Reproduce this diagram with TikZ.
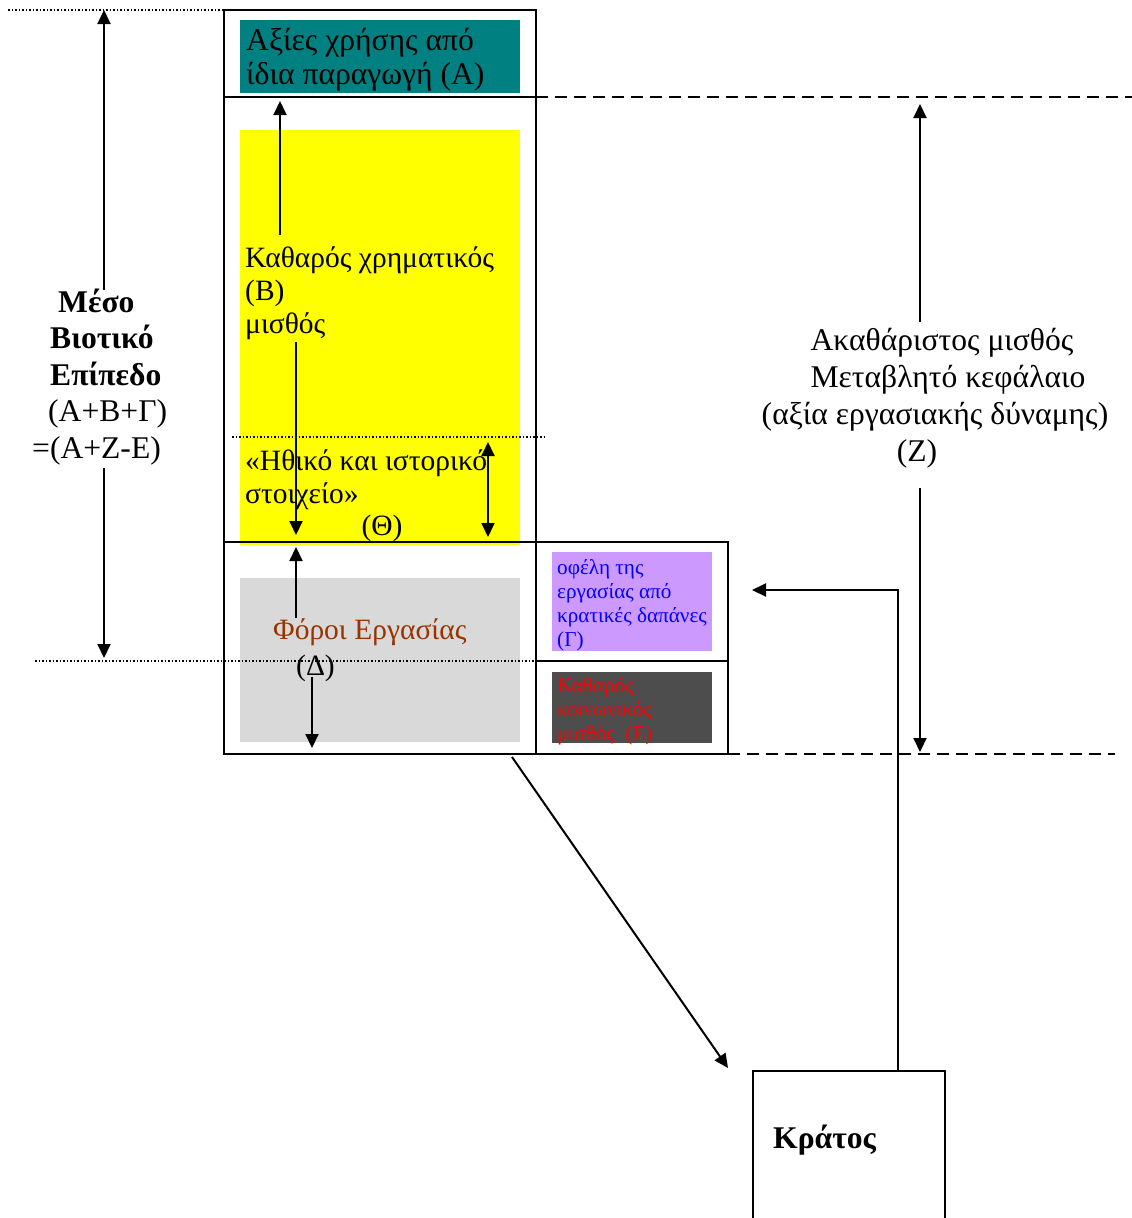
\documentclass[tikz,border=0pt]{standalone}
\usepackage{fontspec}
\setmainfont{Liberation Serif}
\usetikzlibrary{arrows.meta,calc}
\definecolor{tealA}{HTML}{008080}
\definecolor{yelB}{HTML}{FFFF00}
\definecolor{grayD}{HTML}{D9D9D9}
\definecolor{purpG}{HTML}{CC99FF}
\definecolor{darkE}{HTML}{4D4D4D}
\definecolor{brownT}{HTML}{993300}
\definecolor{blueT}{HTML}{0000FF}
\definecolor{redT}{HTML}{FF0000}
\begin{document}
\begin{tikzpicture}[x=1pt,y=-1pt,
  boxline/.style={draw=black,line width=2pt},
  dotline/.style={line width=1.2pt,dash pattern=on 1.5pt off 2pt},
  dashline/.style={line width=1.5pt,dash pattern=on 12pt off 7pt},
  arr/.style={line width=2pt,-{Triangle[length=14pt,width=13pt]}},
  darr/.style={line width=2pt,{Triangle[length=14pt,width=13pt]}-{Triangle[length=14pt,width=13pt]}},
  big/.style={font=\fontsize{31.6}{36}\selectfont,inner sep=0pt,anchor=base west},
  bigc/.style={font=\fontsize{31.6}{36}\selectfont,inner sep=0pt,anchor=base},
  bigb/.style={font=\fontsize{31.6}{36}\selectfont\bfseries,inner sep=0pt,anchor=base west},
  mid/.style={font=\fontsize{29.5}{34}\selectfont,inner sep=0pt,anchor=base west},
  midc/.style={font=\fontsize{29.5}{34}\selectfont,inner sep=0pt,anchor=base},
  small/.style={font=\fontsize{21.2}{24}\selectfont,inner sep=0pt,anchor=base west},
  fillrect/.style={draw=none,inner sep=0pt,anchor=north west}
]
\useasboundingbox (0,0) rectangle (1132,1218);
\clip (0,0) rectangle (1132,1218);

% coloured panels
\node[fillrect,fill=tealA,minimum width=280pt,minimum height=73pt] (tealbox) at (240,20) {};
\node[fillrect,fill=yelB,minimum width=280pt,minimum height=415pt] (yelbox) at (240,130) {};
\node[fillrect,fill=grayD,minimum width=280pt,minimum height=164pt] (graybox) at (240,578) {};
\node[fillrect,fill=purpG,minimum width=160pt,minimum height=99pt] (purpbox) at (552,552) {};
\node[fillrect,fill=darkE,minimum width=160pt,minimum height=71pt] (darkbox) at (552,672) {};

% frames
\draw[boxline] (224,10) rectangle (536,754);
\draw[boxline] (224,97) -- (536,97);
\draw[boxline] (224,542) -- (728,542);
\draw[boxline] (536,542) rectangle (728,754);
\draw[boxline] (536,661) -- (728,661);

% dashed and dotted guide lines
\draw[dashline] (536,97) -- (1132,97);
\draw[dashline] (728,754) -- (1115,754);
\draw[dotline] (8,10) -- (222,10);
\draw[dotline] (232,437) -- (545,437);
\draw[dotline] (35,661) -- (540,661);

% texts
\node[big] (a1) at (246,50) {Αξίες χρήσης από};
\node[big] (a2) at (246,84) {ίδια παραγωγή (Α)};
\node[mid] (b1) at (245,267) {Καθαρός χρηματικός};
\node[mid] (b2) at (245,300) {(Β)};
\node[mid] (b3) at (245,333) {μισθός};
\node[mid] (t1) at (245,470) {«Ηθικό και ιστορικό};
\node[mid] (t2) at (245,503) {στοιχείο»};
\node[midc] (t3) at (382,535) {(Θ)};
\node[mid,text=brownT] (d1) at (273,639) {Φόροι Εργασίας};
\node[mid] (d2) at (296,675) {(Δ)};
\node[small,text=blueT] (g1) at (557,574) {οφέλη της};
\node[small,text=blueT] (g2) at (557,598) {εργασίας από};
\node[small,text=blueT] (g3) at (557,622) {κρατικές δαπάνες};
\node[small,text=blueT] (g4) at (557,646) {(Γ)};
\node[small,text=redT] (e1) at (557,692) {Καθαρός};
\node[small,text=redT] (e2) at (557,716) {κοινωνικός};
\node[small,text=redT] (e3) at (557,740) {μισθός\ \ (Ε)};
\node[bigb] (m1) at (58,312) {Μέσο};
\node[bigb] (m2) at (50,348) {Βιοτικό};
\node[bigb] (m3) at (50,385) {Επίπεδο};
\node[big] (m4) at (48,421) {(Α+Β+Γ)};
\node[big] (m5) at (32,458) {=(Α+Ζ-Ε)};
\node[bigc] (z1) at (942,350) {Ακαθάριστος μισθός};
\node[bigc] (z2) at (948,387) {Μεταβλητό κεφάλαιο};
\node[bigc] (z3) at (935,424) {(αξία εργασιακής δύναμης)};
\node[bigc] (z4) at (917,461) {(Ζ)};

% state box
\node[draw,line width=2pt,anchor=north west,minimum width=192pt,minimum height=180pt,inner sep=0pt] (kratos) at (752,1070) {};
\node[bigb] (kt) at (773,1148) {Κράτος};

% arrow end points
\coordinate (L1a) at (104,290);
\coordinate (L1b) at (104,10);
\coordinate (L2a) at (104,468);
\coordinate (L2b) at (104,658);
\coordinate (R1a) at (920,322);
\coordinate (R1b) at (920,104);
\coordinate (R2a) at (920,488);
\coordinate (R2b) at (920,752);
\coordinate (B1a) at (280,235);
\coordinate (B1b) at (280,101);
\coordinate (B2a) at (296,342);
\coordinate (B2b) at (296,535);
\coordinate (D1a) at (296,618);
\coordinate (D1b) at (296,547);
\coordinate (D2a) at (312,677);
\coordinate (D2b) at (312,748);
\coordinate (T1a) at (488,442);
\coordinate (T1b) at (488,537);
\coordinate (S1) at (512,757);
\coordinate (S2) at (728,1068);
\coordinate (K1) at ($(kratos.north west)!0.75!(kratos.north east)$);
\coordinate (K2) at (752,590);

% arrows
\draw[arr] (L1a) -- (L1b);
\draw[arr] (L2a) -- (L2b);
\draw[arr] (R1a) -- (R1b);
\draw[arr] (R2a) -- (R2b);
\draw[arr] (B1a) -- (B1b);
\draw[arr] (B2a) -- (B2b);
\draw[arr] (D1a) -- (D1b);
\draw[arr] (D2a) -- (D2b);
\draw[darr] (T1a) -- (T1b);
\draw[arr] (S1) -- (S2);
\draw[arr] (K1) |- (K2);
\end{tikzpicture}
\end{document}
